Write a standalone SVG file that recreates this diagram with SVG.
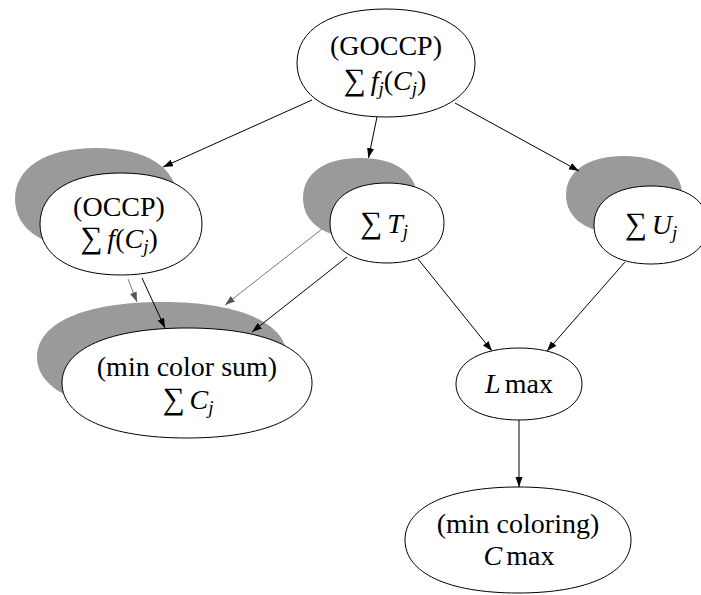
<svg xmlns="http://www.w3.org/2000/svg" width="701" height="595" viewBox="0 0 701 595">
  <defs>
    <style>
      .node { fill: #ffffff; stroke: #000000; stroke-width: 1; }
      .shade { fill: #9a9a9a; stroke: none; }
      .edge { fill: none; stroke: #000000; stroke-width: 1; }
      .edge.ghost { stroke: #555555; stroke-width: 0.8; }
      .t { font-family: "Liberation Serif", "Times New Roman", serif; font-size: 28px; fill: #000000; }
      .it { font-style: italic; }
      .sub { font-size: 19px; font-style: italic; }
      .op { font-size: 31px; }
    </style>
    <marker id="ah" markerUnits="userSpaceOnUse" markerWidth="11" markerHeight="8" refX="10" refY="3.5" orient="auto">
      <path d="M0,0 L10,3.5 L0,7 Z" fill="#000000"/>
    </marker>
    <marker id="ahg" markerUnits="userSpaceOnUse" markerWidth="11" markerHeight="8" refX="10" refY="3.5" orient="auto">
      <path d="M0,0 L10,3.5 L0,7 Z" fill="#555555"/>
    </marker>
  </defs>

  <!-- GOCCP -->
  <g id="goccp">
    <path class="node" d="M475,63 C475,96.5 439.2,117 386,117 C330.8,117 297,96.5 297,63 C297,29.5 330.8,9 386,9 C439.2,9 475,29.5 475,63Z"/>
    <text class="t" x="386" y="55" text-anchor="middle">(GOCCP)</text>
    <text class="t" x="385" y="90" text-anchor="middle"><tspan class="op">∑</tspan><tspan class="it" dx="5">f</tspan><tspan class="sub" dy="5">j</tspan><tspan dy="-5">(</tspan><tspan class="it">C</tspan><tspan class="sub" dy="5">j</tspan><tspan dy="-5">)</tspan></text>
  </g>

  <!-- OCCP -->
  <g id="occp">
    <path class="shade" d="M177,199 C177,230.6 146.2,250 96,250 C45.8,250 15,230.6 15,199 C15,167.4 45.8,148 96,148 C146.2,148 177,167.4 177,199Z"/>
    <path class="node" d="M202,224 C202,255.6 171.2,275 121,275 C70.8,275 40,255.6 40,224 C40,192.4 70.8,173 121,173 C171.2,173 202,192.4 202,224Z"/>
    <text class="t" x="119" y="216" text-anchor="middle">(OCCP)</text>
    <text class="t" x="119" y="248" text-anchor="middle"><tspan class="op">∑</tspan><tspan class="it" dx="5">f</tspan><tspan>(</tspan><tspan class="it">C</tspan><tspan class="sub" dy="5">j</tspan><tspan dy="-5">)</tspan></text>
  </g>

  <!-- sum of T_j -->
  <g id="sum-t">
    <path class="shade" d="M417,198 C417,222.8 395.3,238 360,238 C324.7,238 303,222.8 303,198 C303,173.2 324.7,158 360,158 C395.3,158 417,173.2 417,198Z"/>
    <path class="node" d="M444,223 C444,247.8 422.3,263 387,263 C351.7,263 330,247.8 330,223 C330,198.2 351.7,183 387,183 C422.3,183 444,198.2 444,223Z"/>
    <text class="t" x="384" y="233" text-anchor="middle"><tspan class="op">∑</tspan><tspan class="it" dx="5">T</tspan><tspan class="sub" dy="5">j</tspan></text>
  </g>

  <!-- sum of U_j -->
  <g id="sum-u">
    <path class="shade" d="M682,195 C682,219.2 659.7,234 624,234 C588.3,234 566,219.2 566,195 C566,170.8 588.3,156 624,156 C659.7,156 682,170.8 682,195Z"/>
    <path class="node" d="M708,225 C708,249.2 686.3,264 651,264 C615.7,264 594,249.2 594,225 C594,200.8 615.7,186 651,186 C686.3,186 708,200.8 708,225Z"/>
    <text class="t" x="651" y="234" text-anchor="middle"><tspan class="op">∑</tspan><tspan class="it" dx="5">U</tspan><tspan class="sub" dy="5">j</tspan></text>
  </g>

  <!-- min color sum -->
  <g id="min-color-sum">
    <path class="shade" d="M287,357 C287,391.1 239.5,412 162,412 C84.5,412 37,391.1 37,357 C37,322.9 84.5,302 162,302 C239.5,302 287,322.9 287,357Z"/>
    <path class="node" d="M312,383 C312,417.1 264.5,438 187,438 C109.5,438 62,417.1 62,383 C62,348.9 109.5,328 187,328 C264.5,328 312,348.9 312,383Z"/>
    <text class="t" x="187" y="376" text-anchor="middle">(min color sum)</text>
    <text class="t" x="188" y="409" text-anchor="middle"><tspan class="op">∑</tspan><tspan class="it" dx="5">C</tspan><tspan class="sub" dy="5">j</tspan></text>
  </g>

  <!-- L max -->
  <g id="lmax">
    <path class="node" d="M582,384 C582,406.3 556,420 519,420 C482,420 456,406.3 456,384 C456,361.7 482,348 519,348 C556,348 582,361.7 582,384Z"/>
    <text class="t" x="519" y="393" text-anchor="middle"><tspan class="it">L</tspan><tspan dx="4">max</tspan></text>
  </g>

  <!-- min coloring -->
  <g id="min-coloring">
    <path class="node" d="M631,540 C631,572.9 588.1,593 518,593 C447.9,593 405,572.9 405,540 C405,507.1 447.9,487 518,487 C588.1,487 631,507.1 631,540Z"/>
    <text class="t" x="518" y="533" text-anchor="middle">(min coloring)</text>
    <text class="t" x="519" y="565" text-anchor="middle"><tspan class="it">C</tspan><tspan dx="4">max</tspan></text>
  </g>

  <!-- connectors -->
  <g id="edges">
    <path class="edge" d="M312,100 L163,167" marker-end="url(#ah)"/>
    <path class="edge" d="M377,117 L368.5,158" marker-end="url(#ah)"/>
    <path class="edge" d="M455,103 L579,171" marker-end="url(#ah)"/>
    <path class="edge ghost" d="M128,279 L137,302" marker-end="url(#ahg)"/>
    <path class="edge" d="M142,278 L165,328" marker-end="url(#ah)"/>
    <path class="edge ghost" d="M322,229 L225,305" marker-end="url(#ahg)"/>
    <path class="edge" d="M347,257 L252,332" marker-end="url(#ah)"/>
    <path class="edge" d="M418,259 L492,351" marker-end="url(#ah)"/>
    <path class="edge" d="M625,262 L547,351" marker-end="url(#ah)"/>
    <path class="edge" d="M519,420 L519,487" marker-end="url(#ah)"/>
  </g>
</svg>
